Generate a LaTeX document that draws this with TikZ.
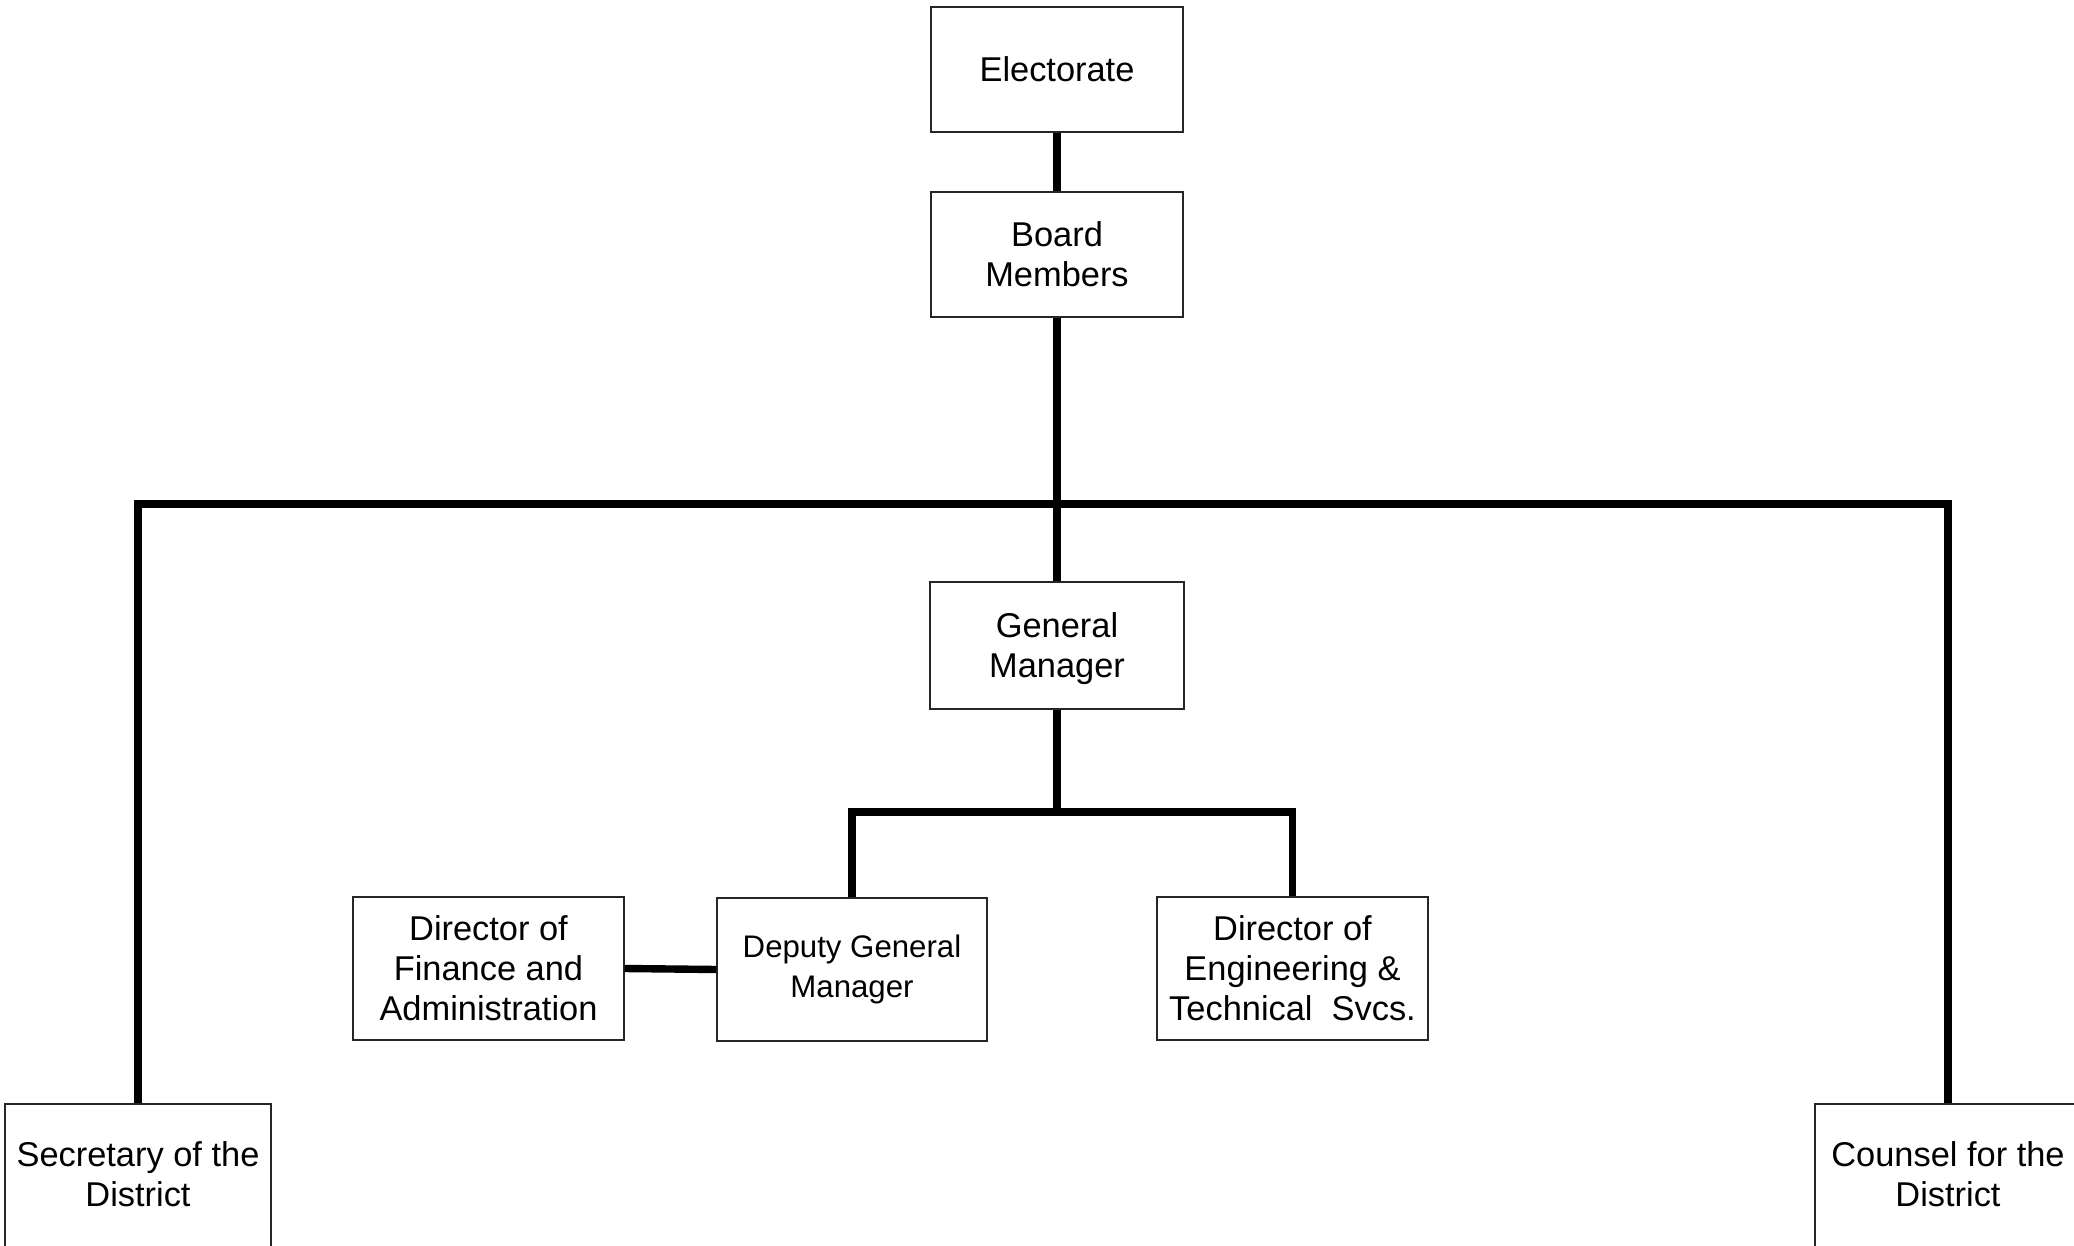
\documentclass[tikz,border=0pt]{standalone}
\usepackage{fontspec}
\setmainfont{Liberation Sans}
\begin{document}
\begin{tikzpicture}[x=0.5pt,y=-0.5pt,
  box/.style={draw=black!85,line width=0.6pt,inner sep=0pt,align=center,
    font=\fontsize{17.2}{20}\selectfont},
  conn/.style={line width=3.7pt,line join=miter}]
\useasboundingbox[fill=white] (0,0) rectangle (2074,1246);
\node[box,minimum width=126pt,minimum height=62.5pt] (elect) at (1057,69.5) {Electorate};
\node[box,minimum width=126pt,minimum height=62.5pt] (board) at (1057,254.5) {Board\\Members};
\node[box,minimum width=127pt,minimum height=63.5pt,text height=36pt] (gm) at (1057,645.5) {General\\Manager};
\node[box,minimum width=135.5pt,minimum height=71.5pt] (fin) at (488.5,968.5) {Director of\\Finance and\\Administration};
\node[box,minimum width=135pt,minimum height=71.5pt,font=\fontsize{15.6}{20}\selectfont] (dgm) at (852,969.5) {Deputy General\\Manager};
\node[box,minimum width=135.5pt,minimum height=71.5pt] (eng) at (1292.5,968.5) {Director of\\Engineering \&\\Technical\ \ Svcs.};
\node[box,minimum width=133pt,minimum height=75pt,text depth=4.5pt] (sec) at (138,1179) {Secretary of the\\District};
\node[box,minimum width=133pt,minimum height=75pt,text depth=4.5pt] (coun) at (1948,1179) {Counsel for the\\District};
\coordinate (bar1) at (1057,504);
\coordinate (bar2) at (1057,812);
\draw[conn] (elect.south) -- (board.north);
\draw[conn] (board.south) -- (gm.north);
\draw[conn] (sec.north) |- (coun.north |- bar1) -- (coun.north);
\draw[conn] (gm.south) -- (bar2);
\draw[conn] (dgm.north) |- (eng.north |- bar2) -- (eng.north);
\draw[conn] (fin.east) -- (dgm.west);
\end{tikzpicture}
\end{document}
